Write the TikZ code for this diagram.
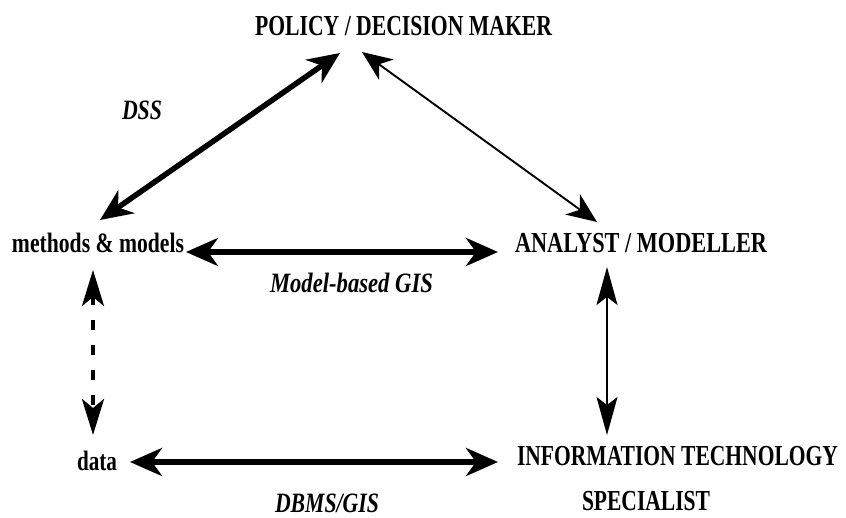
\documentclass[tikz,border=0pt]{standalone}
\usepackage{fontspec}
\usepackage{graphicx}
\setmainfont{Liberation Serif}
\usetikzlibrary{arrows.meta,calc}
\newcommand{\fitw}[2]{\resizebox{#1}{\height}{#2}}
\tikzset{
  lbl/.style={anchor=base west, inner sep=0pt, outer sep=0pt, font=\bfseries\fontsize{29}{29}\selectfont},
  lbllow/.style={lbl, font=\bfseries\fontsize{28}{28}\selectfont},
  lblit/.style={lbl, font=\bfseries\itshape\fontsize{28}{28}\selectfont},
  thickarr/.style={line width=5.5pt, {Stealth[length=32pt,width=28pt,inset=10pt]}-{Stealth[length=32pt,width=28pt,inset=10pt]}},
  thinarr/.style={line width=1.9pt, {Stealth[length=30pt,width=25pt,inset=9pt]}-{Stealth[length=30pt,width=25pt,inset=9pt]}},
  vthinarr/.style={line width=1.9pt, {Stealth[length=38pt,width=21pt,inset=8pt]}-{Stealth[length=38pt,width=21pt,inset=8pt]}},
  dasharr/.style={line width=3.8pt, dash pattern=on 10pt off 15pt, {Stealth[length=36pt,width=22pt,inset=9pt]}-{Stealth[length=36pt,width=22pt,inset=9pt]}}
}
\begin{document}
\begin{tikzpicture}[x=1pt,y=-1pt]
\useasboundingbox (0,0) rectangle (846,518);
\fill[white] (0,0) rectangle (846,518);
% nodes
\node[lbl] (pm) at (255,36) {\fitw{297pt}{POLICY / DECISION MAKER}};
\node[lbllow] (mm) at (12,253) {\fitw{172pt}{methods \& models}};
\node[lbl] (am) at (515,253) {\fitw{252pt}{ANALYST / MODELLER}};
\node[lbllow] (da) at (77,470) {\fitw{40pt}{data}};
\node[lbl] (it) at (517,465) {\fitw{321pt}{INFORMATION TECHNOLOGY}};
\node[lbl] (sp) at (582,510) {\fitw{128pt}{SPECIALIST}};
\node[lblit] (dss) at (122,120) {\fitw{40pt}{DSS}};
\node[lblit] (mg) at (270,293) {\fitw{163pt}{Model-based GIS}};
\node[lblit] (db) at (275,512) {\fitw{104pt}{DBMS/GIS}};
% connectors
\draw[thickarr] ($(mm.base west)+(88,-33)$) -- ($(pm.base west)+(85,17)$);
\draw[thinarr] ($(pm.base west)+(107,16)$) -- ($(am.base west)+(82,-31)$);
\draw[thickarr] ($(mm.base east)+(2,-1)$) -- ($(am.base west)+(-17,-1)$);
\draw[dasharr] ($(mm.base west)+(81,17)$) -- ($(da.base west)+(16,-35)$);
\draw[vthinarr] ($(am.base west)+(92,14)$) -- ($(it.base west)+(90,-30)$);
\draw[thickarr] ($(da.base east)+(13,-8)$) -- ($(it.base west)+(-19,-3)$);
\end{tikzpicture}
\end{document}
